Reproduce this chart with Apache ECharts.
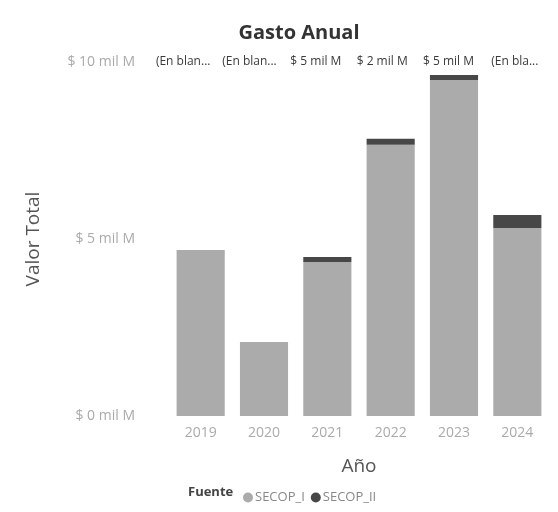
<!DOCTYPE html>
<html>
<head>
<meta charset="utf-8">
<script src="https://cdn.jsdelivr.net/npm/echarts@6/dist/echarts.min.js"></script>
<style>
html,body{margin:0;padding:0;background:#fff;}
#c{width:558px;height:512px;}
</style>
</head>
<body>
<div id="c"></div>
<script>
const years = ['2019','2020','2021','2022','2023','2024'];
const secopI = [4.69, 2.09, 4.35, 7.66, 9.49, 5.31];
const secopII = [0, 0, 0.14, 0.17, 0.14, 0.37];
const topLabels = ['(En blan...', '(En blan...', '$ 5 mil M', '$ 2 mil M', '$ 5 mil M', '(En bla...'];
const yTicks = [0, 5, 10];

const FONT = '"Open Sans", "Noto Sans", sans-serif';
const chart = echarts.init(document.getElementById('c'));
chart.setOption({
  animation: false,
  backgroundColor: '#fff',
  textStyle: { fontFamily: FONT },
  title: {
    text: 'Gasto Anual',
    left: 294, top: 18, textAlign: 'center',
    textStyle: { fontFamily: FONT, fontSize: 20, fontWeight: 'bold', color: '#333' }
  },
  graphic: [{
    type: 'text', left: 188, top: 486,
    style: { text: 'Fuente', fontFamily: FONT, fontSize: 13, fontWeight: 'bold', fill: '#444' }
  }],
  legend: {
    left: 238, top: 486,
    icon: 'circle', itemWidth: 10, itemHeight: 10, itemGap: 6,
    textStyle: { fontFamily: FONT, fontSize: 13, color: '#888', padding: [0, 0, 0, -3] },
    data: ['SECOP_I', 'SECOP_II']
  },
  grid: [
    { left: 169, right: 9, top: 62, bottom: 96 },
    { left: 150, right: 10, top: 50, height: 1 }
  ],
  xAxis: [{
    type: 'category', data: years, gridIndex: 0,
    name: 'Año', nameLocation: 'middle', nameGap: 41,
    nameTextStyle: { fontFamily: FONT, fontSize: 19, color: '#555' },
    axisLine: { show: false }, axisTick: { show: false },
    axisLabel: { fontFamily: FONT, fontSize: 14, color: '#aaa', margin: 10 }
  }, {
    type: 'category', data: topLabels, gridIndex: 1, position: 'bottom',
    axisLine: { show: false }, axisTick: { show: false },
    axisLabel: { fontFamily: FONT, fontSize: 12, color: '#3a3a3a', margin: 5, interval: 0 }
  }],
  yAxis: [{
    type: 'value', min: 0, max: 10, interval: 5, gridIndex: 0,
    name: 'Valor Total', nameLocation: 'middle', nameGap: 126,
    nameTextStyle: { fontFamily: FONT, fontSize: 19, color: '#555' },
    splitLine: { show: false },
    axisLine: { show: false }, axisTick: { show: false },
    axisLabel: {
      fontFamily: FONT, fontSize: 14, color: '#aaa', margin: 34,
      formatter: function (v) {
        return yTicks.indexOf(v) >= 0 ? '$ ' + v + ' mil M' : '';
      }
    }
  }, {
    type: 'value', gridIndex: 1, show: false
  }],
  series: [
    {
      name: 'SECOP_I', type: 'bar', stack: 'a', data: secopI,
      barCategoryGap: '24%',
      itemStyle: { color: '#ababab' }
    },
    {
      name: 'SECOP_II', type: 'bar', stack: 'a', data: secopII,
      barCategoryGap: '24%',
      itemStyle: { color: '#474747' }
    }
  ]
});
</script>
</body>
</html>
